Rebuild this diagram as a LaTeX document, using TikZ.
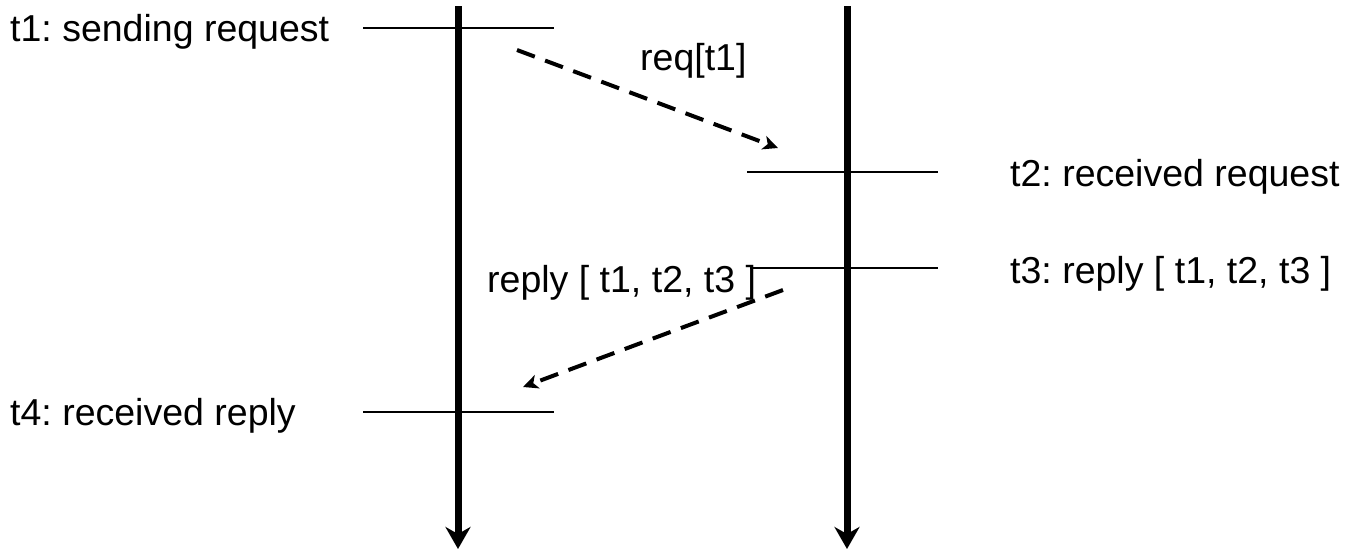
\documentclass[tikz,border=0pt]{standalone}
\usepackage{fontspec}
\setmainfont{Liberation Sans}
\usetikzlibrary{arrows.meta,positioning}
\frenchspacing

\begin{document}
\begin{tikzpicture}[x=1pt, y=-1pt, font=\fontsize{37.5}{44}\selectfont,
    timeline/.style={line width=7pt, -{Stealth[length=22pt, width=25pt, inset=7pt]}},
    tickline/.style={line width=1.3pt},
    message/.style={line width=4pt, dash pattern=on 19pt off 11pt,
                    -{Stealth[length=15pt, width=14pt, inset=4pt]}},
    evlabel/.style={inner sep=0pt, anchor=base west}]

    \useasboundingbox (0,0) rectangle (1350,549);

    % the two processes
    \coordinate (client top) at (458,6);
    \coordinate (client end) at (458,549);
    \coordinate (server top) at (847,6);
    \coordinate (server end) at (847,549);

    % event marks
    \coordinate (t1 a) at (363,28);   \coordinate (t1 b) at (554,28);
    \coordinate (t2 a) at (747,172);  \coordinate (t2 b) at (938,172);
    \coordinate (t3 a) at (750,268);  \coordinate (t3 b) at (938,268);
    \coordinate (t4 a) at (363,412);  \coordinate (t4 b) at (554,412);

    % message ends
    \coordinate (req from) at (517,50);
    \coordinate (req to) at (778,148);
    \coordinate (rep from) at (783,290);
    \coordinate (rep to) at (523,387);

    \node[evlabel] (t1) at (10,41) {t1: sending request};
    \node[evlabel] (t2) at (1010,186) {t2: received request};
    \node[evlabel] (t3) at (1010,283) {t3: reply [ t1, t2, t3 ]};
    \node[evlabel] (t4) at (10,425) {t4: received reply};
    \node[evlabel] (req) at (640,70) {req[t1]};
    \node[evlabel] (rep) at (487,292) {reply [ t1, t2, t3 ]};

    \draw[tickline] (t1 a) -- (t1 b);
    \draw[tickline] (t2 a) -- (t2 b);
    \draw[tickline] (t3 a) -- (t3 b);
    \draw[tickline] (t4 a) -- (t4 b);

    \draw[timeline] (client top) -- (client end);
    \draw[timeline] (server top) -- (server end);

    \draw[message] (req from) -- (req to);
    \draw[message] (rep from) -- (rep to);
\end{tikzpicture}
\end{document}
